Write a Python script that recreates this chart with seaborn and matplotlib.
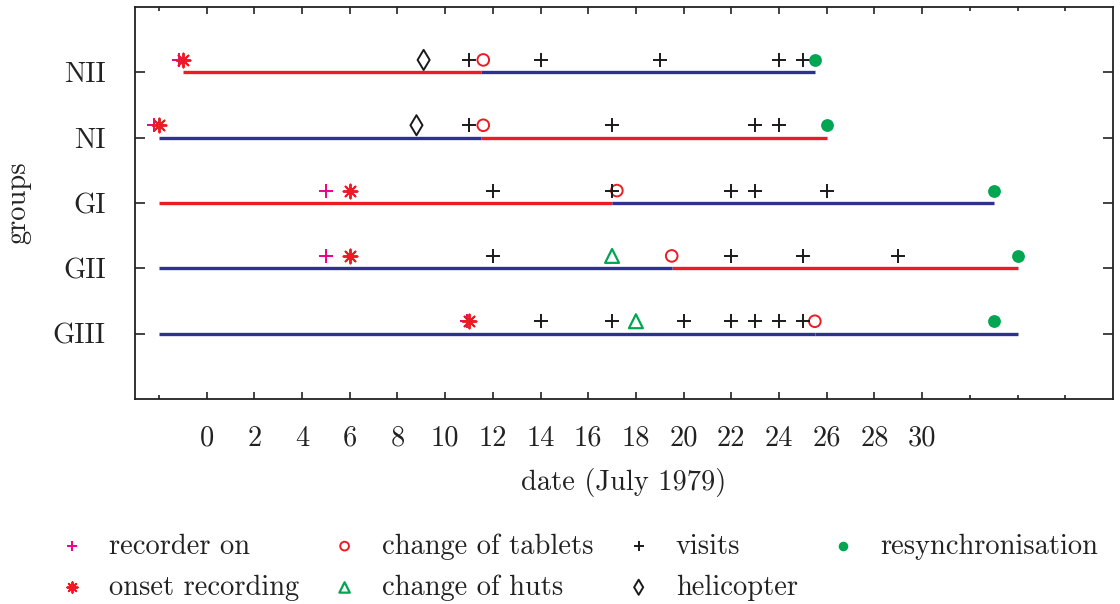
import matplotlib
matplotlib.use("Agg")
import matplotlib.pyplot as plt
import seaborn as sns
import pandas as pd

# Groups, bottom to top
groups = ["GIII", "GII", "GI", "NI", "NII"]

# Recording periods per group (day of July 1979); phase A drawn red, phase B blue
seg_group = ["NII", "NII", "NI", "NI", "GI", "GI", "GII", "GII", "GIII", "GIII"]
seg_start = [-1.0, 11.5, -2.0, 11.5, -2.0, 17.0, -2.0, 19.5, -2.0, 25.5]
seg_end = [11.5, 25.5, 11.5, 26.0, 17.0, 33.0, 19.5, 34.0, 25.5, 34.0]
seg_phase = ["A", "B", "B", "A", "A", "B", "B", "A", "B", "B"]

# Events
recorder_on_group = ["NII", "NI", "GI", "GII", "GIII"]
recorder_on_day = [-1.15, -2.2, 5.0, 5.0, 10.9]

onset_group = ["NII", "NI", "GI", "GII", "GIII"]
onset_day = [-1.0, -2.0, 6.0, 6.0, 11.0]

tablets_group = ["NII", "NI", "GI", "GII", "GIII"]
tablets_day = [11.6, 11.6, 17.2, 19.5, 25.5]

huts_group = ["GII", "GIII"]
huts_day = [17.0, 18.0]

visits_group = (["NII"] * 5 + ["NI"] * 4 + ["GI"] * 5 + ["GII"] * 4 + ["GIII"] * 7)
visits_day = ([11, 14, 19, 24, 25]
              + [11, 17, 23, 24]
              + [12, 17, 22, 23, 26]
              + [12, 22, 25, 29]
              + [14, 17, 20, 22, 23, 24, 25])

heli_group = ["NII", "NI"]
heli_day = [9.1, 8.8]

resync_group = ["NII", "NI", "GI", "GII", "GIII"]
resync_day = [25.5, 26.0, 33.0, 34.0, 33.0]

xtick_labels = [str(d) for d in range(0, 31, 2)]

RED = "#ed1c24"
BLUE = "#2e3192"
MAGENTA = "#ec008c"
GREEN = "#00a651"
BLACK = "#1a1a1a"
INK = "#222222"

sns.set_theme(style="ticks")
plt.rcParams["font.family"] = ["cmr10", "DejaVu Serif"]
plt.rcParams["mathtext.fontset"] = "cm"
plt.rcParams["axes.unicode_minus"] = False
plt.rcParams["axes.formatter.use_mathtext"] = True

FS = 20.5

fig = plt.figure(figsize=(11.2, 6.04), dpi=100)
ax = fig.add_axes([135 / 1120, 1 - 399 / 604, (1113 - 135) / 1120, (399 - 7) / 604])

ypos = {g: i + 1 for i, g in enumerate(groups)}
OFFSET = 0.19  # markers sit just above their group's line

# Period lines
seg = pd.DataFrame({"group": seg_group, "start": seg_start, "end": seg_end, "phase": seg_phase})
rows = []
for i, r in seg.iterrows():
    rows.append({"seg": i, "day": r["start"], "y": ypos[r["group"]], "phase": r["phase"]})
    rows.append({"seg": i, "day": r["end"], "y": ypos[r["group"]], "phase": r["phase"]})
lines = pd.DataFrame(rows)
sns.lineplot(data=lines, x="day", y="y", hue="phase", units="seg", estimator=None,
             palette={"A": RED, "B": BLUE}, linewidth=2.4, legend=False, ax=ax,
             solid_capstyle="butt")


def events(gs, days):
    return pd.DataFrame({"day": days, "y": [ypos[g] + OFFSET for g in gs]})


specs = [
    ("recorder on", recorder_on_group, recorder_on_day,
     dict(marker="+", s=110, color=MAGENTA, linewidth=1.4)),
    ("onset recording", onset_group, onset_day,
     dict(marker=(8, 2, 0), s=100, color=RED, linewidth=1.4)),
    ("change of tablets", tablets_group, tablets_day,
     dict(marker="o", s=70, facecolor="none", edgecolor=RED, linewidth=1.4)),
    ("change of huts", huts_group, huts_day,
     dict(marker="^", s=100, facecolor="none", edgecolor=GREEN, linewidth=1.6)),
    ("visits", visits_group, visits_day,
     dict(marker="+", s=110, color=BLACK, linewidth=1.4)),
    ("helicopter", heli_group, heli_day,
     dict(marker="d", s=105, facecolor="none", edgecolor=BLACK, linewidth=1.4)),
    ("resynchronisation", resync_group, resync_day,
     dict(marker="o", s=85, color=GREEN, edgecolor=GREEN, linewidth=0)),
]

for name, gs, days, kw in specs:
    sns.scatterplot(data=events(gs, days), x="day", y="y", label=name, ax=ax,
                    zorder=3, **kw)

ax.set_xlim(-3, 38)
ax.set_ylim(0, 6)
ax.set_xticks(range(0, 31, 2))
ax.set_xticklabels(xtick_labels, fontsize=FS)
ax.set_xticks([-2, 32, 34, 36], minor=True)
ax.set_yticks([ypos[g] for g in groups])
ax.set_yticklabels(groups, fontsize=FS)
ax.tick_params(axis="x", which="major", direction="in", length=5, width=1.2,
               top=True, pad=19, colors=INK, labelcolor=INK)
ax.tick_params(axis="x", which="minor", direction="in", length=3, width=1.2, top=True,
               colors=INK)
ax.tick_params(axis="y", direction="in", length=7, width=1.2, right=True, pad=21,
               colors=INK, labelcolor=INK)
for sp in ax.spines.values():
    sp.set_visible(True)
    sp.set_linewidth(1.3)
    sp.set_color(INK)

ax.set_xlabel("date (July 1979)", fontsize=FS, color=INK)
ax.xaxis.set_label_coords(0.5, -0.212)
ax.xaxis.label.set_va("center")
ax.set_ylabel("groups", fontsize=FS, color=INK)
ax.yaxis.set_label_coords(-0.1196, 0.5)
ax.yaxis.label.set_va("center")

handles, labels = ax.get_legend_handles_labels()
if ax.legend_:
    ax.legend_.remove()
fig.legend(handles, labels, loc="center left", bbox_to_anchor=(42 / 1120, 1 - 567 / 604),
           ncol=4, frameon=False, fontsize=FS, markerscale=0.75, handlelength=1.1,
           handletextpad=0.75, columnspacing=1.05, labelspacing=0.52, borderpad=0,
           labelcolor=INK)

fig.savefig("out.png", dpi=100)
